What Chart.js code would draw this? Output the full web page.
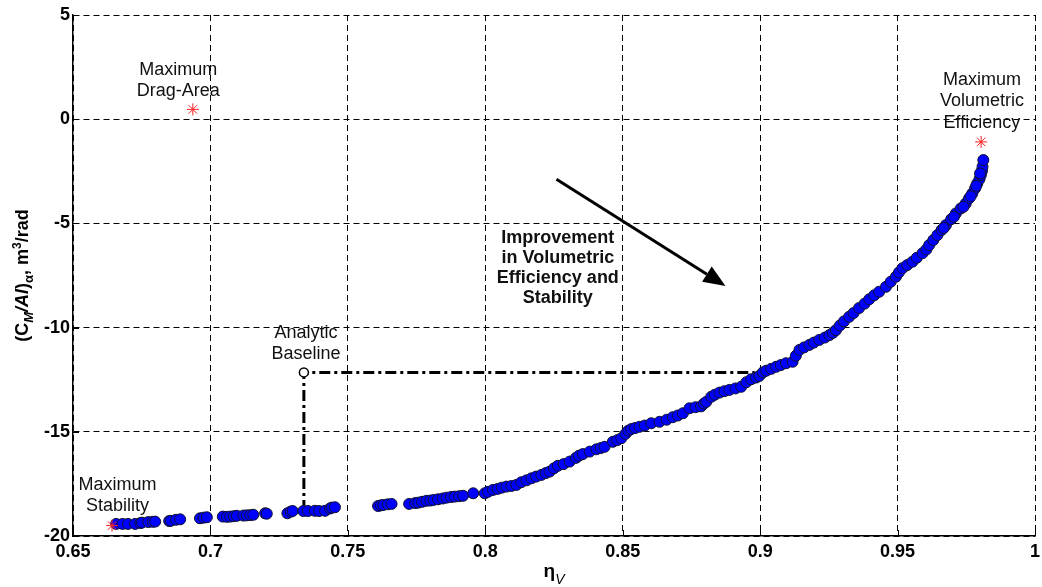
<!DOCTYPE html>
<html>
<head>
<meta charset="utf-8">
<script src="https://cdn.jsdelivr.net/npm/chart.js@4.4.1/dist/chart.umd.min.js"></script>
<style>
html,body{margin:0;padding:0;background:#fff;}
#wrap{width:1042px;height:587px;}
</style>
</head>
<body>
<div id="wrap"><canvas id="c" width="1042" height="587"></canvas></div>
<script>
// ---- data ----
const xTickValues = [0.65, 0.7, 0.75, 0.8, 0.85, 0.9, 0.95, 1];
const xTickLabels = ['0.65', '0.7', '0.75', '0.8', '0.85', '0.9', '0.95', '1'];
const yTickValues = [-20, -15, -10, -5, 0, 5];
const yTickLabels = ['-20', '-15', '-10', '-5', '0', '5'];

const curveX = [
 0.6657,0.6680,0.6700,0.6726,0.6745,0.6751,0.6774,0.6790,0.6799,0.6850,0.6856,0.6875,0.6890,0.6962,0.6975,0.6987,
 0.7045,0.7060,0.7072,0.7085,0.7096,0.7120,0.7132,0.7145,0.7156,0.7199,0.7205,0.7280,0.7292,0.7299,0.7338,0.7355,
 0.7380,0.7395,0.7417,0.7435,0.7441,0.7453,
 0.7610,0.7620,0.7629,0.7645,0.7659,0.7723,0.7745,0.7756,0.7770,0.7786,0.7800,0.7812,0.7828,0.7845,0.7859,0.7875,
 0.7889,0.7905,0.7919,0.7956,0.7998,0.8010,0.8028,0.8045,0.8060,0.8077,0.8095,0.8113,0.8131,0.8150,0.8168,0.8185,
 0.8204,0.8220,0.8234,0.8250,0.8264,0.8285,0.8307,0.8330,0.8340,0.8355,0.8380,0.8404,0.8420,0.8434,0.8464,0.8480,
 0.8495,0.8510,0.8520,0.8531,0.8545,0.8561,0.8580,0.8604,0.8634,0.8660,0.8682,0.8700,0.8719,0.8743,0.8765,0.8785,
 0.8795,0.8804,0.8822,0.8835,0.8852,0.8870,0.8888,0.8910,0.8931,0.8950,0.8967,0.8985,0.8997,0.9010,0.9022,0.9040,
 0.9058,0.9075,0.9094,0.9118,0.9130,0.9143,0.9160,0.9179,0.9195,0.9215,0.9235,0.9252,0.9265,0.9276,0.9290,0.9305,
 0.9324,0.9340,0.9360,0.9380,0.9397,0.9415,0.9433,0.9458,0.9475,0.9494,0.9505,0.9518,0.9535,0.9554,0.9570,0.9591,
 0.9605,0.9615,0.9630,0.9645,0.9660,0.9676,0.9695,0.9712,0.9730,0.9748,0.9760,0.9772,0.9782,0.9790,0.9798,0.9803,
 0.9807,0.9809,0.9812,
 0.9800,0.9786,0.9766,0.9740,0.9705,0.9668
];
const curveY = [
 -19.42,-19.42,-19.42,-19.42,-19.38,-19.36,-19.33,-19.32,-19.31,-19.28,-19.27,-19.22,-19.20,-19.15,-19.12,-19.10,
 -19.07,-19.08,-19.07,-19.05,-19.03,-19.02,-19.01,-19.00,-18.98,-18.91,-18.93,-18.91,-18.83,-18.80,-18.80,-18.80,
 -18.79,-18.80,-18.79,-18.68,-18.64,-18.62,
 -18.56,-18.53,-18.51,-18.48,-18.46,-18.46,-18.42,-18.40,-18.36,-18.31,-18.30,-18.27,-18.24,-18.20,-18.16,-18.13,
 -18.11,-18.09,-18.07,-17.95,-17.95,-17.88,-17.79,-17.74,-17.68,-17.63,-17.60,-17.55,-17.42,-17.33,-17.23,-17.15,
 -17.07,-16.98,-16.91,-16.75,-16.63,-16.55,-16.43,-16.25,-16.15,-16.07,-15.95,-15.84,-15.78,-15.72,-15.48,-15.40,
 -15.31,-15.10,-14.95,-14.87,-14.82,-14.76,-14.70,-14.59,-14.52,-14.42,-14.30,-14.22,-14.11,-13.87,-13.82,-13.78,
 -13.65,-13.56,-13.32,-13.22,-13.12,-13.05,-12.99,-12.92,-12.84,-12.62,-12.48,-12.40,-12.32,-12.15,-12.07,-11.98,
 -11.88,-11.80,-11.71,-11.64,-11.35,-11.07,-10.95,-10.83,-10.72,-10.59,-10.48,-10.36,-10.25,-10.12,-9.90,-9.70,
 -9.48,-9.30,-9.06,-8.85,-8.64,-8.45,-8.28,-8.04,-7.80,-7.56,-7.35,-7.15,-7.00,-6.84,-6.65,-6.43,
 -6.25,-6.04,-5.80,-5.56,-5.32,-5.08,-4.80,-4.52,-4.28,-4.04,-3.80,-3.56,-3.32,-3.08,-2.88,-2.68,
 -2.48,-2.28,-1.96,
 -2.60,-3.20,-3.70,-4.20,-4.68,-5.22
];

const starX = [0.6936, 0.9804, 0.6642];   // max drag-area, max volumetric efficiency, max stability
const starY = [0.47, -1.09, -19.50];

const baselineX = [0.734, 0.734, 0.898];
const baselineY = [-18.80, -12.15, -12.15];
const analyticX = [0.734];
const analyticY = [-12.15];

const arrowX = [0.8259, 0.8874];
const arrowY = [-2.88, -8.0];

const notes = [
  { lines: ['Maximum', 'Drag-Area'], x: 0.6883, y: 2.36, bold: false },
  { lines: ['Maximum', 'Volumetric', 'Efficiency'], x: 0.9807, y: 1.88, bold: false },
  { lines: ['Analytic', 'Baseline'], x: 0.7348, y: -10.26, bold: false },
  { lines: ['Maximum', 'Stability'], x: 0.6662, y: -17.55, bold: false },
  { lines: ['Improvement', 'in Volumetric', 'Efficiency and', 'Stability'], x: 0.8264, y: -5.70, bold: true }
];

// ---- chart ----
const FONT = "'Liberation Sans', Arial, sans-serif";
const toPts = (xs, ys) => xs.map((v, i) => ({ x: v, y: ys[i] }));

const overlay = {
  id: 'overlay',
  afterDraw(chart) {
    const { ctx, chartArea: a } = chart;
    const sx = chart.scales.x, sy = chart.scales.y;
    ctx.save();
    // inner tick marks
    ctx.strokeStyle = '#000'; ctx.lineWidth = 1;
    xTickValues.forEach(v => {
      const px = Math.round(sx.getPixelForValue(v)) + 0.5;
      ctx.beginPath(); ctx.moveTo(px, a.bottom); ctx.lineTo(px, a.bottom - 6); ctx.stroke();
    });
    yTickValues.forEach(v => {
      const py = Math.round(sy.getPixelForValue(v)) + 0.5;
      ctx.beginPath(); ctx.moveTo(a.left, py); ctx.lineTo(a.left + 6, py); ctx.stroke();
    });
    // arrow
    const x1 = sx.getPixelForValue(arrowX[0]), y1 = sy.getPixelForValue(arrowY[0]);
    const x2 = sx.getPixelForValue(arrowX[1]), y2 = sy.getPixelForValue(arrowY[1]);
    const ang = Math.atan2(y2 - y1, x2 - x1);
    const hl = 22, hw = 9;
    const bx = x2 - hl * Math.cos(ang), by = y2 - hl * Math.sin(ang);
    ctx.strokeStyle = '#000'; ctx.lineWidth = 3; ctx.setLineDash([]);
    ctx.beginPath(); ctx.moveTo(x1, y1); ctx.lineTo(bx, by); ctx.stroke();
    ctx.fillStyle = '#000';
    ctx.beginPath();
    ctx.moveTo(x2, y2);
    ctx.lineTo(bx + hw * Math.sin(ang), by - hw * Math.cos(ang));
    ctx.lineTo(bx - hw * Math.sin(ang), by + hw * Math.cos(ang));
    ctx.closePath(); ctx.fill();
    // notes
    ctx.textAlign = 'center'; ctx.textBaseline = 'middle'; ctx.fillStyle = '#111';
    notes.forEach(n => {
      ctx.font = (n.bold ? 'bold ' : '') + '18px ' + FONT;
      const cx = sx.getPixelForValue(n.x), cy = sy.getPixelForValue(n.y);
      n.lines.forEach((t, i) => ctx.fillText(t, cx, cy + i * (n.bold ? 20 : 21.5)));
    });
    // x title
    ctx.fillStyle = '#000'; ctx.textAlign = 'left'; ctx.textBaseline = 'alphabetic';
    ctx.font = 'bold 19px ' + FONT;
    const etaW = ctx.measureText('η').width;
    ctx.font = 'italic 14px ' + FONT;
    const vW = ctx.measureText('V').width;
    const tx = (a.left + a.right) / 2 - (etaW + vW) / 2;
    ctx.font = 'bold 19px ' + FONT; ctx.fillText('η', tx, 577);
    ctx.font = 'italic 14px ' + FONT; ctx.fillText('V', tx + etaW, 584);
    // y title (rotated)
    const parts = [
      ['(', 'bold 18px', 0], ['C', 'bold 18px', 0], ['M', 'bold italic 13px', 5],
      ['/Al', 'bold italic 18px', 0], [')', 'bold 18px', 0], ['α', 'bold 13px', 5],
      [', m', 'bold 18px', 0], ['3', 'bold 12px', -7], ['/rad', 'bold 18px', 0]
    ];
    let total = 0;
    parts.forEach(p => { ctx.font = p[1] + ' ' + FONT; total += ctx.measureText(p[0]).width; });
    ctx.translate(28, (a.top + a.bottom) / 2);
    ctx.rotate(-Math.PI / 2);
    let cur = -total / 2;
    parts.forEach(p => {
      ctx.font = p[1] + ' ' + FONT;
      ctx.fillText(p[0], cur, p[2]);
      cur += ctx.measureText(p[0]).width;
    });
    ctx.restore();
  }
};

new Chart(document.getElementById('c'), {
  type: 'scatter',
  data: {
    datasets: [
      { label: 'Analytic Baseline', data: toPts(analyticX, analyticY), pointRadius: 4.5,
        pointBackgroundColor: '#fff', pointBorderColor: '#000', pointBorderWidth: 1.5 },
      { label: 'Extremes', data: toPts(starX, starY), pointStyle: 'star', pointRadius: 6,
        pointBorderColor: '#ff2020', pointBackgroundColor: '#ff2020', pointBorderWidth: 1 },
      { label: 'Designs', data: toPts(curveX, curveY), pointRadius: 5.5,
        pointBackgroundColor: '#0000ff', pointBorderColor: '#101030', pointBorderWidth: 1 },
      { label: 'Baseline path', data: toPts(baselineX, baselineY), showLine: true, pointRadius: 0,
        borderColor: '#000', borderWidth: 3, borderDash: [11, 4, 3, 4] }
    ]
  },
  options: {
    responsive: false, animation: false, devicePixelRatio: 1,
    layout: { padding: { top: 15, right: 6, left: 0, bottom: 0 } },
    plugins: { legend: { display: false }, tooltip: { enabled: false } },
    scales: {
      x: {
        type: 'linear', min: 0.65, max: 1,
        afterBuildTicks: s => { s.ticks = xTickValues.map(v => ({ value: v })); },
        afterFit: s => { s.height = 51; s.paddingLeft = 0; s.paddingRight = 0; },
        ticks: { callback: (v, i) => xTickLabels[i], color: '#000', padding: 5,
          font: { family: FONT, size: 18, weight: 'bold' }, maxRotation: 0, autoSkip: false },
        grid: { color: '#000', lineWidth: 1, drawTicks: false },
        border: { display: true, color: '#000', width: 1.5, dash: [6, 4] }
      },
      y: {
        type: 'linear', min: -20, max: 5,
        afterBuildTicks: s => { s.ticks = yTickValues.map(v => ({ value: v })); },
        afterFit: s => { s.width = 73; s.paddingTop = 0; s.paddingBottom = 0; },
        ticks: { callback: (v, i) => yTickLabels[i], color: '#000', padding: 3,
          font: { family: FONT, size: 18, weight: 'bold' }, autoSkip: false },
        grid: { color: '#000', lineWidth: 1, drawTicks: false },
        border: { display: true, color: '#000', width: 1.5, dash: [6, 4] }
      }
    }
  },
  plugins: [overlay]
});
</script>
</body>
</html>
